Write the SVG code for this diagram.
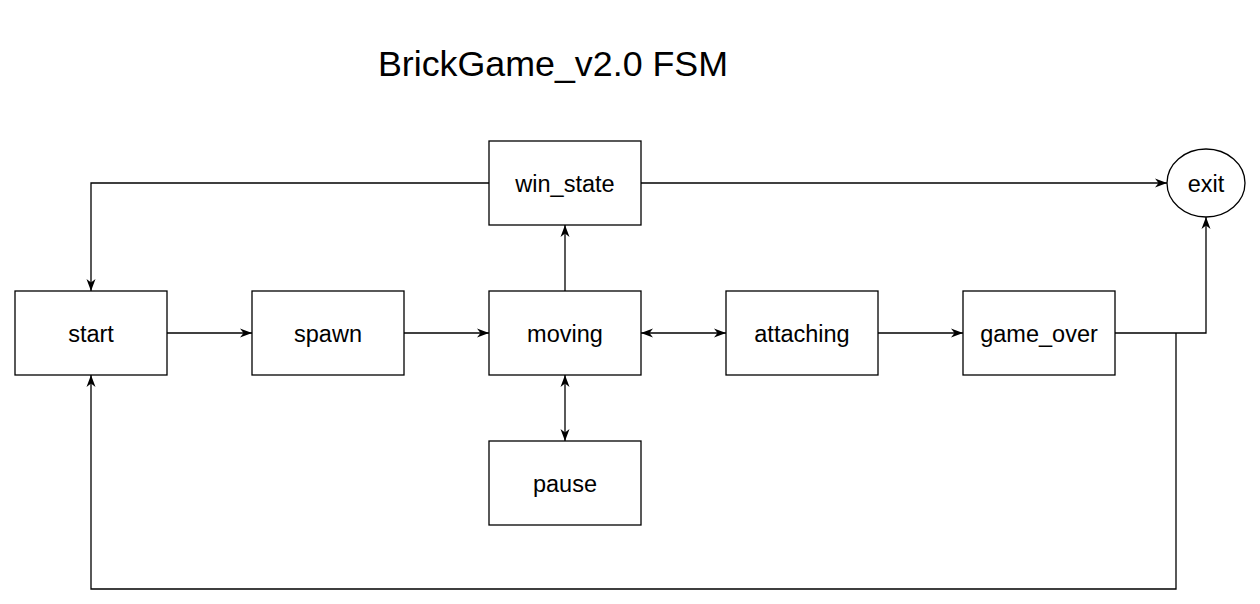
<svg xmlns="http://www.w3.org/2000/svg" width="1260" height="604" viewBox="0 0 1260 604">
<defs>
<marker id="arr" markerUnits="userSpaceOnUse" markerWidth="12" markerHeight="10" viewBox="0 0 12 9" refX="12" refY="4.5" orient="auto-start-reverse">
<path d="M0,0 L12,4.5 L0,9 L3.5,4.5 Z" fill="#000"/>
</marker>
<style>
.n{fill:#fff;stroke:#000;stroke-width:1.3}
.t{font-family:"Liberation Sans",Arial,sans-serif;font-size:23.5px;fill:#000;text-anchor:middle}
.c{fill:none;stroke:#000;stroke-width:1.3}
</style>
</defs>
<rect width="1260" height="604" fill="#fff"/>
<text x="553" y="76" font-family="Liberation Sans, Arial, sans-serif" font-size="35.8" text-anchor="middle" fill="#000">BrickGame_v2.0 FSM</text>
<g id="connectors">
<path class="c" d="M167,333 H252" marker-end="url(#arr)"/>
<path class="c" d="M404,333 H489" marker-end="url(#arr)"/>
<path class="c" d="M641,333 H726" marker-start="url(#arr)" marker-end="url(#arr)"/>
<path class="c" d="M878,333 H963" marker-end="url(#arr)"/>
<path class="c" d="M565,291 V225" marker-end="url(#arr)"/>
<path class="c" d="M565,375 V441" marker-start="url(#arr)" marker-end="url(#arr)"/>
<path class="c" d="M489,183 H91 V291" marker-end="url(#arr)"/>
<path class="c" d="M641,183 H1167" marker-end="url(#arr)"/>
<path class="c" d="M1115,333 H1206 V217" marker-end="url(#arr)"/>
<path class="c" d="M1176,333 V589 H91 V375" marker-end="url(#arr)"/>
</g>
<g id="start"><rect class="n" x="15" y="291" width="152" height="84"/><text class="t" x="91" y="342">start</text></g>
<g id="spawn"><rect class="n" x="252" y="291" width="152" height="84"/><text class="t" x="328" y="342">spawn</text></g>
<g id="moving"><rect class="n" x="489" y="291" width="152" height="84"/><text class="t" x="565" y="342">moving</text></g>
<g id="attaching"><rect class="n" x="726" y="291" width="152" height="84"/><text class="t" x="802" y="342">attaching</text></g>
<g id="game_over"><rect class="n" x="963" y="291" width="152" height="84"/><text class="t" x="1039" y="342">game_over</text></g>
<g id="win_state"><rect class="n" x="489" y="141" width="152" height="84"/><text class="t" x="565" y="192">win_state</text></g>
<g id="pause"><rect class="n" x="489" y="441" width="152" height="84"/><text class="t" x="565" y="492">pause</text></g>
<g id="exit"><ellipse class="n" cx="1206" cy="183" rx="39" ry="34"/><text class="t" x="1206" y="192">exit</text></g>
</svg>
